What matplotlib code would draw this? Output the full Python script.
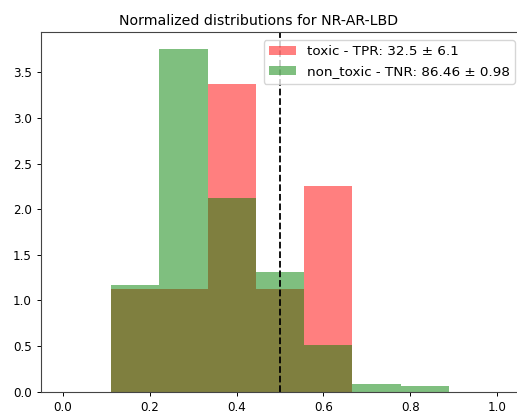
import numpy as np
import matplotlib
matplotlib.use("Agg")
import matplotlib.pyplot as plt

# histogram bins (range 0..1, 9 bins) and normalized heights
bin_edges = np.linspace(0, 1, 10)
toxic_density = [0.0, 1.125, 1.125, 3.375, 1.125, 2.25, 0.0, 0.0, 0.0]
non_toxic_density = [0.0, 1.165, 3.755, 2.125, 1.31, 0.515, 0.08, 0.066, 0.0]
threshold = 0.5
title = "Normalized distributions for NR-AR-LBD"
toxic_label = "toxic - TPR: 32.5 \u00b1 6.1"
non_toxic_label = "non_toxic - TNR: 86.46 \u00b1 0.98"

fig = plt.figure(figsize=(5.17, 4.12), dpi=100)
ax = fig.add_axes([0.0793, 0.0493, 0.9246, 0.873])

centers = (bin_edges[:-1] + bin_edges[1:]) / 2
ax.hist(centers, bins=bin_edges, weights=toxic_density, color="red", alpha=0.5, label=toxic_label)
ax.hist(centers, bins=bin_edges, weights=non_toxic_density, color="green", alpha=0.5, label=non_toxic_label)
ax.axvline(threshold, color="black", linestyle="--", linewidth=1.3)

# title sits centred on the figure, not the (clipped) axes
ax.set_title(title, fontsize=10.2, pad=5, x=0.455)
ax.tick_params(labelsize=8.6, width=0.7, length=3)
for sp in ax.spines.values():
    sp.set_linewidth(0.8)
    sp.set_color("#444444")
ax.legend(loc="upper right", fontsize=9.7, borderaxespad=0,
          bbox_to_anchor=(515 / 517, (412 - 40) / 412), bbox_transform=fig.transFigure)

fig.savefig("out.png", dpi=100)
